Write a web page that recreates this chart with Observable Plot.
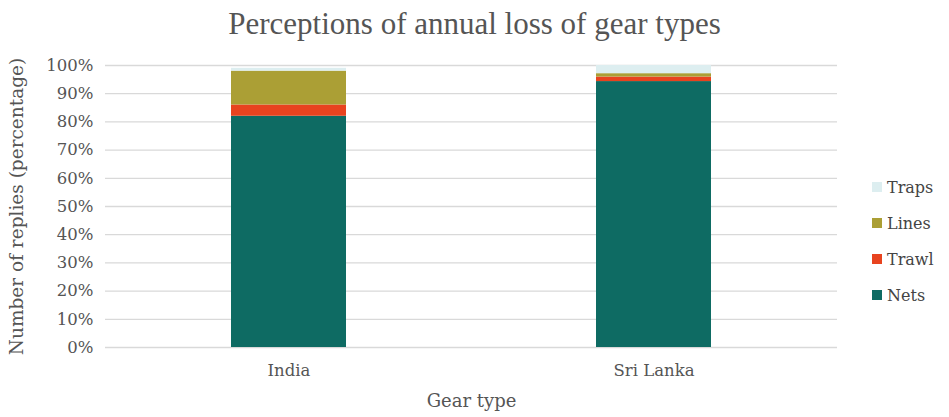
<!DOCTYPE html>
<html><head><meta charset="utf-8">
<script src="https://cdn.jsdelivr.net/npm/d3@7"></script>
<script src="https://cdn.jsdelivr.net/npm/@observablehq/plot@0.6"></script>
<style>
body{margin:0;background:#fff;}
#wrap{position:relative;width:949px;height:417px;overflow:hidden;}
#title{position:absolute;left:0;top:6px;width:949px;text-align:center;font-family:"Liberation Serif",serif;font-size:31px;color:#555;}
#chart{position:absolute;left:0;top:50px;}
#legend{position:absolute;left:872px;top:169px;font-family:"DejaVu Serif",serif;font-size:16px;color:#444;}
.li{display:flex;align-items:center;height:36px;}
.sw{width:10px;height:10px;margin-right:5px;}
</style></head>
<body><div id="wrap"><div id="title">Perceptions of annual loss of gear types</div><div id="chart"></div><div id="legend"></div></div>
<script>
const countries = ["India", "Sri Lanka"];
const gears = ["Nets", "Trawl", "Lines", "Traps"];
const nets = [82, 94.3];
const trawl = [4, 1.6];
const lines = [12, 1.2];
const traps = [1, 2.9];
const colors = ["#0e6b63", "#e8431f", "#ab9f35", "#ddeef0"];
const yTicks = [0,10,20,30,40,50,60,70,80,90,100];

const series = [nets, trawl, lines, traps];
const data = [];
countries.forEach((c, i) => gears.forEach((g, j) => data.push({country: c, gear: g, value: series[j][i]})));

const chart = Plot.plot({
  width: 949, height: 367,
  marginLeft: 105, marginRight: 112, marginTop: 15, marginBottom: 70,
  style: {fontFamily: "'DejaVu Serif', serif", fontSize: "16px", color: "#555", background: "white"},
  x: {domain: countries, paddingInner: 0.685, paddingOuter: 0.345, label: null},
  y: {domain: [0, 100], label: null},
  color: {domain: gears, range: colors},
  marks: [
    Plot.gridY(yTicks, {stroke: "#d9d9d9", strokeOpacity: 1, strokeWidth: 1.3}),
    Plot.barY(data, {x: "country", y: "value", fill: "gear", order: gears}),
    Plot.axisX({tickSize: 0, tickPadding: 17, fontSize: 16.5, label: null}),
    Plot.axisY({ticks: yTicks, tickFormat: d => d + "%", tickSize: 0, tickPadding: 12, fontSize: 16.5, label: null}),
    Plot.text(["Gear type"], {frameAnchor: "bottom", lineAnchor: "middle", dy: 54, fontSize: 18, fill: "#555"}),
    Plot.text(["Number of replies (percentage)"], {frameAnchor: "left", textAnchor: "middle", lineAnchor: "middle", rotate: -90, dx: -88, fontSize: 18.5, fill: "#555"})
  ]
});
document.getElementById("chart").appendChild(chart);

const leg = document.getElementById("legend");
[...gears].reverse().forEach(g => {
  const d = document.createElement("div"); d.className = "li";
  const s = document.createElement("div"); s.className = "sw"; s.style.background = colors[gears.indexOf(g)];
  d.appendChild(s); d.appendChild(document.createTextNode(g)); leg.appendChild(d);
});
</script></body></html>
